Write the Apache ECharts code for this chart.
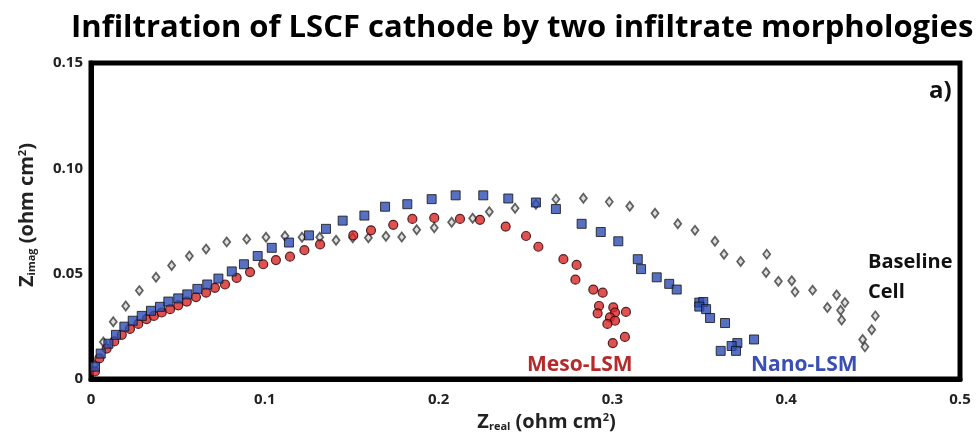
<!DOCTYPE html>
<html><head><meta charset="utf-8">
<script src="https://cdn.jsdelivr.net/npm/echarts@6/dist/echarts.min.js"></script>
<style>html,body{margin:0;padding:0;background:#fff}#c{width:977px;height:437px}</style>
</head><body><div id="c"></div>
<script>
// Baseline cell (grey diamonds): [Zreal, Zimag]
const baselineData = [
 [0.0023,0.0067],[0.0071,0.0176],[0.0128,0.0272],[0.020,0.0347],[0.0278,0.042],[0.0374,0.0483],
 [0.0464,0.0539],[0.0566,0.0584],[0.0662,0.0617],[0.0781,0.0651],[0.0896,0.0664],[0.1007,0.0673],
 [0.1116,0.0679],[0.1214,0.0673],[0.1316,0.0673],[0.141,0.0659],[0.1506,0.0671],[0.1596,0.0671],
 [0.1697,0.0678],[0.1788,0.0674],[0.1874,0.0709],[0.1975,0.0718],[0.2075,0.0744],[0.2196,0.0763],
 [0.2292,0.0794],[0.2440,0.0811],[0.2560,0.0830],[0.2675,0.0854],[0.2833,0.0858],[0.2982,0.0841],
 [0.3100,0.0820],[0.3245,0.0787],[0.3376,0.0737],[0.3475,0.0706],[0.359,0.0654],[0.3642,0.0592],
 [0.3738,0.0558],[0.3888,0.0593],[0.3884,0.0506],[0.3955,0.0464],[0.4032,0.0467],[0.4051,0.0414],
 [0.4152,0.0422],[0.4290,0.0399],[0.4237,0.0340],[0.4338,0.0363],[0.4313,0.0327],[0.4319,0.0280],
 [0.4513,0.0300],[0.4492,0.0234],[0.4440,0.0188],[0.4453,0.0153]
];
// Meso-LSM (red circles)
const mesoData = [
 [0.0023,0.0036],[0.0048,0.0098],[0.009,0.0145],[0.0134,0.0179],[0.0177,0.021],[0.0224,0.0238],
 [0.0272,0.0262],[0.032,0.0285],[0.0362,0.030],[0.0407,0.0316],[0.0455,0.0332],[0.0502,0.035],
 [0.0551,0.0368],[0.0604,0.0389],[0.0662,0.041],[0.0713,0.0433],[0.0771,0.0449],[0.0838,0.048],
 [0.0915,0.0508],[0.0991,0.0545],[0.1064,0.0565],[0.1145,0.0581],[0.1228,0.0612],[0.1318,0.0639],
 [0.1509,0.0682],[0.1611,0.0706],[0.1739,0.0732],[0.1849,0.076],[0.1975,0.0765],[0.2123,0.076],
 [0.2238,0.0756],[0.2386,0.0724],[0.2503,0.0679],[0.2574,0.0628],[0.2718,0.0569],[0.2794,0.0542],
 [0.2787,0.0472],[0.2890,0.0425],[0.2944,0.041],[0.2923,0.0347],[0.2915,0.0312],[0.3005,0.034],
 [0.3015,0.0316],[0.2986,0.0293],[0.3015,0.0277],[0.2971,0.0262],[0.3078,0.0319],[0.3072,0.020],
 [0.3002,0.0171]
];
// Nano-LSM (blue squares)
const nanoData = [
 [0.0023,0.0059],[0.0056,0.0121],[0.010,0.0168],[0.0144,0.021],[0.0192,0.0249],[0.024,0.0277],
 [0.0292,0.030],[0.0345,0.0324],[0.0397,0.0343],[0.0445,0.0368],[0.0502,0.0383],[0.0554,0.0402],
 [0.0612,0.0428],[0.0669,0.0449],[0.0733,0.0477],[0.081,0.0511],[0.088,0.0545],[0.0959,0.0584],
 [0.104,0.0623],[0.1139,0.0648],[0.1254,0.0682],[0.1352,0.0713],[0.1448,0.0752],[0.1573,0.0776],
 [0.1692,0.0818],[0.182,0.083],[0.196,0.0854],[0.2098,0.0872],[0.2257,0.0872],[0.2401,0.0857],
 [0.256,0.0838],[0.2675,0.0807],[0.2823,0.0737],[0.2933,0.0698],[0.3034,0.0654],[0.3146,0.0569],
 [0.3165,0.0522],[0.3255,0.0483],[0.3327,0.0452],[0.337,0.0425],[0.35,0.0363],[0.3523,0.0366],
 [0.35,0.0344],[0.3539,0.0332],[0.3562,0.029],[0.3648,0.0266],[0.3815,0.0188],[0.3719,0.0171],
 [0.3686,0.0157],[0.3711,0.0134],[0.3623,0.0134]
];
const xTicks = [0, 0.1, 0.2, 0.3, 0.4, 0.5];
const yTicks = [0, 0.05, 0.10, 0.15];
const titleText = 'Infiltration of LSCF cathode by two infiltrate morphologies';

const FONT = '"Open Sans", "Liberation Sans", sans-serif';
const chart = echarts.init(document.getElementById('c'));
const nameRich = (big) => ({
  z: {fontFamily: FONT, fontWeight: 'bold', fontSize: big, color: '#222'},
  s: {fontFamily: FONT, fontWeight: 'bold', fontSize: 11, color: '#222', verticalAlign: 'bottom', padding: [9,0,0,0]},
  n: {fontFamily: FONT, fontWeight: 'bold', fontSize: big, color: '#222'},
  p: {fontFamily: FONT, fontWeight: 'bold', fontSize: 11, color: '#222', verticalAlign: 'top', padding: [0,0,9,0]}
});
chart.setOption({
  animation: false,
  backgroundColor: '#fff',
  title: {
    text: titleText, left: 66, top: 8,
    textStyle: {fontFamily: FONT, fontWeight: 'bold', fontSize: 31, color: '#000'}
  },
  grid: {left: 91, right: 17, top: 63, bottom: 49, show: true, borderColor: '#000', borderWidth: 5, backgroundColor: 'transparent'},
  xAxis: {
    type: 'value', min: 0, max: 0.5, interval: 0.1,
    axisLine: {show: true, lineStyle: {color: '#000', width: 5}},
    axisTick: {show: false}, splitLine: {show: false},
    axisLabel: {margin: 13, fontFamily: FONT, fontWeight: 'bold', fontSize: 15, color: '#222',
      formatter: v => { const t = xTicks.find(k => Math.abs(k - v) < 1e-9); return t === 0 ? '0' : (t !== undefined ? t.toFixed(1) : ''); }},
    name: '{z|Z}{s|real}{n| (ohm cm}{p|2}{n|)}', nameLocation: 'middle', nameGap: 30,
    nameTextStyle: {padding: [0,0,0,42], rich: nameRich(20)}
  },
  yAxis: {
    type: 'value', min: 0, max: 0.15, interval: 0.05,
    axisLine: {show: true, lineStyle: {color: '#000', width: 5}},
    axisTick: {show: false}, splitLine: {show: false},
    axisLabel: {margin: 8, fontFamily: FONT, fontWeight: 'bold', fontSize: 15, color: '#222',
      formatter: v => { const t = yTicks.find(k => Math.abs(k - v) < 1e-9); return t === 0 ? '0' : (t !== undefined ? t.toFixed(2) : ''); }},
    name: '{z|Z}{s|imag}{n| (ohm cm}{p|2}{n|)}', nameLocation: 'middle', nameGap: 54, nameRotate: 90,
    nameTextStyle: {padding: [0,0,0,12], rich: nameRich(20)}
  },
  series: [
    {name: 'Baseline Cell', type: 'scatter', data: baselineData, symbol: 'diamond', symbolSize: [7, 9], z: 2,
     itemStyle: {color: '#d8d8d8', borderColor: '#3c3c3c', borderWidth: 1.8}},
    {name: 'Meso-LSM', type: 'scatter', data: mesoData, symbol: 'circle', symbolSize: 9, z: 3,
     itemStyle: {color: '#d82626', borderColor: '#2a0000', borderWidth: 1.2}},
    {name: 'Nano-LSM', type: 'scatter', data: nanoData, symbol: 'rect', symbolSize: 9, z: 4,
     itemStyle: {color: '#2d4cb3', borderColor: '#111', borderWidth: 1}}
  ],
  graphic: [
    {type: 'text', left: 527, top: 355, style: {text: 'Meso-LSM', fill: '#b52a2a', font: 'bold 21px ' + FONT}},
    {type: 'text', left: 751, top: 355, style: {text: 'Nano-LSM', fill: '#3a4fb5', font: 'bold 21px ' + FONT}},
    {type: 'text', left: 868, top: 247, style: {text: 'Baseline\nCell', fill: '#111', font: 'bold 20px ' + FONT, lineHeight: 30}},
    {type: 'text', left: 929, top: 79, style: {text: 'a)', fill: '#111', font: 'bold 24px ' + FONT}}
  ]
});
</script></body></html>
